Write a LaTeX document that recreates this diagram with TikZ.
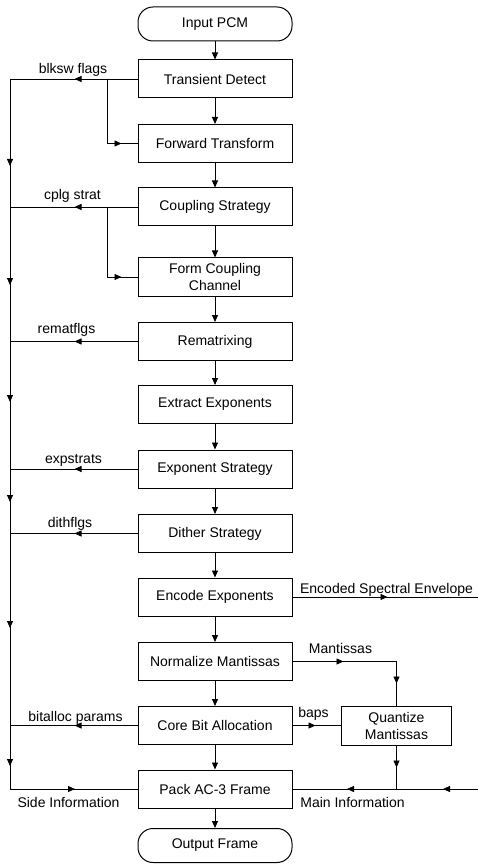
\documentclass[tikz,border=0pt]{standalone}
\usepackage{fontspec}
\setmainfont{Liberation Sans}
\usetikzlibrary{arrows.meta,decorations.markings}
\def\tip{Triangle[length=7pt,width=6pt]}
\begin{document}
\begin{tikzpicture}[x=1pt,y=-1pt,
  font=\fontsize{14}{17}\selectfont,
  line width=0.8pt,
  box/.style={draw, minimum width=154pt, minimum height=38pt, inner sep=0pt, align=center, line width=1pt},
  term/.style={box, rounded corners=15pt, minimum height=34pt},
  arr/.style={-{Triangle[length=7pt,width=6pt]}},
  lbl/.style={inner sep=0pt, anchor=base},
  am/.style={postaction={decorate}, decoration={markings, mark=at position #1 with {\arrow{Triangle[length=7pt,width=6pt]}}}},
  amtwo/.style 2 args={postaction={decorate}, decoration={markings,
     mark=at position #1 with {\arrow{Triangle[length=7pt,width=6pt]}},
     mark=at position #2 with {\arrow{Triangle[length=7pt,width=6pt]}}}},
  leftmarks/.style={postaction={decorate}, decoration={markings,
     mark=at position 87pt with {\arrow{Triangle[length=7pt,width=6pt]}},
     mark=at position 206pt with {\arrow{Triangle[length=7pt,width=6pt]}},
     mark=at position 323pt with {\arrow{Triangle[length=7pt,width=6pt]}},
     mark=at position 423pt with {\arrow{Triangle[length=7pt,width=6pt]}},
     mark=at position 549pt with {\arrow{Triangle[length=7pt,width=6pt]}},
     mark=at position 687pt with {\arrow{Triangle[length=7pt,width=6pt]}}}},
]
\useasboundingbox (0,0) rectangle (478,866);

% main boxes
\node[term] (IP) at (215,24) {Input PCM};
\node[box] (TD) at (215,79) {Transient Detect};
\node[box] (FT) at (215,143.5) {Forward Transform};
\node[box] (CS) at (215,207) {Coupling Strategy};
\node[box] (FC) at (215,277) {Form Coupling\\Channel};
\node[box] (RM) at (215,341.5) {Rematrixing};
\node[box] (EX) at (215,404.5) {Extract Exponents};
\node[box] (ES) at (215,469) {Exponent Strategy};
\node[box] (DS) at (215,533.5) {Dither Strategy};
\node[box] (EE) at (215,597) {Encode Exponents};
\node[box] (NM) at (215,661.5) {Normalize Mantissas};
\node[box] (CB) at (215,725.5) {Core Bit Allocation};
\node[box] (PK) at (215,789) {Pack AC-3 Frame};
\node[term] (OF) at (215,845.5) {Output Frame};
\node[box, minimum width=110pt, minimum height=39pt] (QM) at (396.5,725.5) {Quantize\\Mantissas};

% main flow
\draw[arr] (IP) -- (TD);
\draw[arr] (TD) -- (FT);
\draw[arr] (FT) -- (CS);
\draw[arr] (CS) -- (FC);
\draw[arr] (FC) -- (RM);
\draw[arr] (RM) -- (EX);
\draw[arr] (EX) -- (ES);
\draw[arr] (ES) -- (DS);
\draw[arr] (DS) -- (EE);
\draw[arr] (EE) -- (NM);
\draw[arr] (NM) -- (CB);
\draw[arr] (CB) -- (PK);
\draw[arr] (PK) -- (OF);

% coordinates
\coordinate (L1) at (10,79);
\coordinate (L2) at (10,207);
\coordinate (L3) at (10,341.5);
\coordinate (L4) at (10,469);
\coordinate (L5) at (10,533.5);
\coordinate (L6) at (10,725.5);
\coordinate (L7) at (10,789);
\coordinate (B1) at (107,79);
\coordinate (B2) at (107,207);
\coordinate (R1) at (478,597);
\coordinate (R2) at (478,789);
\coordinate (J) at (396.5,789);

% side information bus
\draw[leftmarks] (L1) -- (L7);
\draw[am=63pt] (TD.west) -- (L1);
\draw[am=-16pt] (B1) |- (FT.west);
\draw[am=63pt] (CS.west) -- (L2);
\draw[am=-16pt] (B2) |- (FC.west);
\draw[am=63pt] (RM.west) -- (L3);
\draw[am=63pt] (ES.west) -- (L4);
\draw[am=63pt] (DS.west) -- (L5);
\draw[am=63pt] (CB.west) -- (L6);
\draw[am=65pt] (L7) -- (PK.west);

% right side
\draw[am=95pt] (EE.east) -- (R1);
\draw[amtwo={51pt}{126pt}] (NM.east) -| (QM.north);
\draw[am=23pt] (CB.east) -- (QM.west);
\draw[am=22pt] (QM.south) -- (J);
\draw[amtwo={35pt}{131pt}] (R2) -- (PK.east);

% labels
\node[lbl] (t1) at (73,74) {blksw flags};
\node[lbl] (t2) at (72.5,200) {cplg strat};
\node[lbl] (t3) at (66.5,333) {rematflgs};
\node[lbl] (t4) at (73.5,463) {expstrats};
\node[lbl] (t5) at (70,527) {dithflgs};
\node[lbl] (t6) at (75.5,721) {bitalloc params};
\node[lbl] (t7) at (68.5,807) {Side Information};
\node[lbl] (t8) at (352.5,807) {Main Information};
\node[lbl] (t9) at (386.5,593) {Encoded Spectral Envelope};
\node[lbl] (t10) at (340.5,653) {Mantissas};
\node[lbl] (t11) at (313.5,717) {baps};
\end{tikzpicture}
\end{document}
